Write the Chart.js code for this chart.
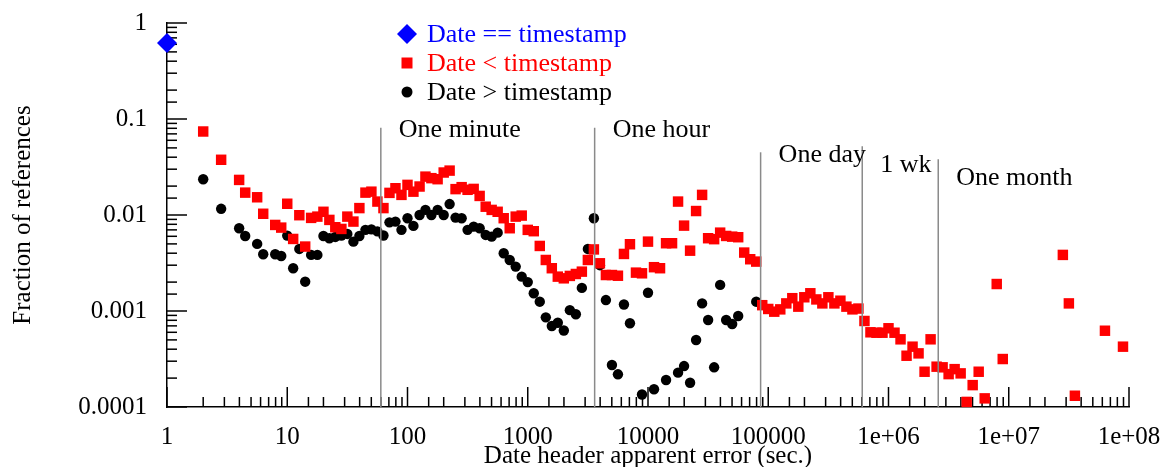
<!DOCTYPE html>
<html>
<head>
<meta charset="utf-8">
<script src="https://cdn.jsdelivr.net/npm/chart.js@4/dist/chart.umd.min.js"></script>
<style>
  html, body { margin: 0; padding: 0; background: #fff; }
  canvas { display: block; }
</style>
</head>
<body>
<canvas id="errChart" width="1162" height="467"></canvas>
<script>
// Date == timestamp
const equalX = [1];
const equalY = [0.619];

// Date < timestamp
const lessX = [2.00, 2.82, 3.98, 4.47, 5.62, 6.31, 7.94, 8.91, 10.0, 11.2, 12.6, 14.1, 15.8, 17.8, 20.0, 22.4, 25.1, 28.2, 31.6, 35.5,
  39.8, 44.7, 50.1, 56.2, 63.1, 70.8, 79.4, 89.1, 100, 112, 126, 141, 158, 178, 200, 224, 251, 282, 316, 355,
  398, 447, 501, 562, 631, 708, 794, 891, 1000, 1122, 1259, 1413, 1585, 1778, 1995, 2239, 2512, 2818, 3162, 3548,
  3981, 4467, 5012, 5623, 6310, 7079, 7943, 8913, 10000, 11220, 12590, 14130, 15850, 17780, 19950, 22390, 25120, 28180, 31620, 35480,
  39810, 44670, 50120, 56230, 63100, 70790, 79430, 89130, 1.000e5, 1.122e5, 1.259e5, 1.413e5, 1.585e5, 1.778e5, 1.995e5, 2.239e5, 2.512e5, 2.818e5, 3.162e5, 3.548e5,
  3.981e5, 4.467e5, 5.012e5, 5.623e5, 6.310e5, 7.079e5, 7.943e5, 8.913e5, 1.000e6, 1.122e6, 1.259e6, 1.413e6, 1.585e6, 1.778e6, 1.995e6, 2.239e6, 2.512e6, 2.818e6, 3.162e6, 3.548e6,
  3.981e6, 4.467e6, 5.012e6, 5.623e6, 6.310e6, 7.943e6, 8.913e6, 2.818e7, 3.162e7, 3.548e7, 6.310e7, 8.913e7];
const lessY = [0.0741, 0.0376, 0.0232, 0.0171, 0.0153, 0.0103, 0.00788, 0.00739, 0.0131, 0.00563, 0.00995, 0.00469, 0.00933, 0.00962, 0.0108, 0.00889, 0.00746, 0.00716, 0.00962, 0.00854,
  0.0118, 0.0171, 0.0175, 0.0138, 0.0118, 0.0170, 0.0190, 0.0162, 0.0206, 0.0175, 0.0198, 0.0251, 0.0242, 0.0236, 0.0277, 0.0290, 0.0186, 0.0195, 0.0183, 0.0187,
  0.0158, 0.0122, 0.0113, 0.0108, 0.00926, 0.00728, 0.00962, 0.00986, 0.00700, 0.00678, 0.00476, 0.00340, 0.00279, 0.00228, 0.00219, 0.00232, 0.00243, 0.00257, 0.00340, 0.00438,
  0.00314, 0.00237, 0.00237, 0.00233, 0.00393, 0.00496, 0.00251, 0.00247, 0.00528, 0.00286, 0.00279, 0.00508, 0.00508, 0.0138, 0.00775, 0.00425, 0.0110, 0.0162, 0.00573, 0.00560,
  0.00655, 0.00605, 0.00595, 0.00587, 0.00406, 0.00346, 0.00327, 0.00115, 0.00105, 0.000984, 0.00104, 0.00120, 0.00136, 0.00111, 0.00139, 0.00153, 0.00132, 0.00120, 0.00139, 0.00120,
  0.00128, 0.00111, 0.00104, 0.00106, 0.000787, 0.000600, 0.000594, 0.000594, 0.000661, 0.000594, 0.000507, 0.000342, 0.000425, 0.000362, 0.000233, 0.000507, 0.000263, 0.000259, 0.000220, 0.000248,
  0.000224, 0.000113, 0.000169, 0.000233, 0.000123, 0.00191, 0.000316, 0.00384, 0.00120, 0.000131, 0.000623, 0.000425];

// Date > timestamp
const greaterX = [2.00, 2.82, 3.98, 4.47, 5.62, 6.31, 7.94, 8.91, 10.0, 11.2, 12.6, 14.1, 15.8, 17.8, 20.0, 22.4, 25.1, 28.2, 31.6, 35.5,
  39.8, 44.7, 50.1, 56.2, 63.1, 70.8, 79.4, 89.1, 100, 112, 126, 141, 158, 178, 200, 224, 251, 282, 316, 355,
  398, 447, 501, 562, 631, 708, 794, 891, 1000, 1122, 1259, 1413, 1585, 1778, 1995, 2239, 2512, 2818, 3162, 3548,
  3981, 4467, 5012, 5623, 6310, 7079, 8913, 10000, 11220, 14130, 17780, 19950, 22390, 25120, 28180, 31620, 35480, 39810, 44670, 50120,
  56230, 79430];
const greaterY = [0.0236, 0.0116, 0.00728, 0.00605, 0.00500, 0.00390, 0.00390, 0.00374, 0.00610, 0.00279, 0.00443, 0.00202, 0.00384, 0.00384, 0.00605, 0.00573, 0.00591, 0.00612, 0.00635, 0.00528,
  0.00605, 0.00700, 0.00708, 0.00675, 0.00612, 0.00838, 0.00854, 0.00700, 0.00926, 0.00770, 0.0100, 0.0113, 0.0100, 0.0113, 0.0100, 0.0130, 0.00940, 0.00926, 0.00700, 0.00757,
  0.00728, 0.00620, 0.00595, 0.00655, 0.00400, 0.00340, 0.00290, 0.00228, 0.00200, 0.00153, 0.00125, 0.000859, 0.000698, 0.000755, 0.000626, 0.00102, 0.000924, 0.00174, 0.00443, 0.00926,
  0.00300, 0.00130, 0.000274, 0.000219, 0.00117, 0.000745, 0.000135, 0.00155, 0.000153, 0.000191, 0.000228, 0.000267, 0.000179, 0.000499, 0.00120, 0.000805, 0.000259, 0.00187, 0.000805, 0.000732,
  0.000887, 0.00125];

// time marks: minute, hour, day, week, month
const markX = [60, 3600, 86400, 604800, 2592000];
const markTop = [0.081, 0.081, 0.045, 0.052, 0.038];
const markText = ["One minute", "One hour", "One day", "1 wk", "One month"];
const markTextY = [0.077, 0.077, 0.0423, 0.0333, 0.0244];

const xTickValues = [1, 10, 100, 1000, 10000, 100000, 1e6, 1e7, 1e8];
const xTickLabels = ["1", "10", "100", "1000", "10000", "100000", "1e+06", "1e+07", "1e+08"];
const yTickValues = [1, 0.1, 0.01, 0.001, 0.0001];
const yTickLabels = ["1", "0.1", "0.01", "0.001", "0.0001"];

const legendItems = [
  { text: "Date == timestamp", color: "#0000ff", style: "diamond" },
  { text: "Date < timestamp", color: "#ff0000", style: "square" },
  { text: "Date > timestamp", color: "#000000", style: "circle" },
];

const SERIF = "'Liberation Serif', 'DejaVu Serif', serif";

const pts = (xs, ys) => xs.map((x, i) => ({ x: x, y: ys[i] }));

const isDecade = v => Math.abs(Math.log10(v) - Math.round(Math.log10(v))) < 1e-6;

function labelFor(v, values, labels) {
  const i = values.findIndex(t => Math.abs(Math.log10(t) - Math.log10(v)) < 1e-6);
  return i >= 0 ? labels[i] : "";
}

// ticks pointing into the plot, long at decades
const inwardTicks = {
  id: "inwardTicks",
  beforeDatasetsDraw(chart) {
    const { ctx, chartArea, scales } = chart;
    ctx.save();
    ctx.strokeStyle = "#000";
    ctx.lineWidth = 1.5;
    scales.x.ticks.forEach(t => {
      const px = scales.x.getPixelForValue(t.value);
      const len = isDecade(t.value) ? 20 : 10;
      ctx.beginPath();
      ctx.moveTo(px, chartArea.bottom);
      ctx.lineTo(px, chartArea.bottom - len);
      ctx.stroke();
    });
    scales.y.ticks.forEach(t => {
      const py = scales.y.getPixelForValue(t.value);
      const len = isDecade(t.value) ? 20 : 10;
      ctx.beginPath();
      ctx.moveTo(chartArea.left, py);
      ctx.lineTo(chartArea.left + len, py);
      ctx.stroke();
    });
    ctx.restore();
  }
};

// names beside the time marks
const markLabels = {
  id: "markLabels",
  afterDatasetsDraw(chart) {
    const { ctx, scales } = chart;
    ctx.save();
    ctx.font = "26px " + SERIF;
    ctx.fillStyle = "#000";
    ctx.textBaseline = "middle";
    ctx.textAlign = "left";
    markX.forEach((mx, i) => {
      ctx.fillText(markText[i], scales.x.getPixelForValue(mx) + 18, scales.y.getPixelForValue(markTextY[i]));
    });
    ctx.restore();
  }
};

// stacked legend near the top
const stackedLegend = {
  id: "stackedLegend",
  afterDraw(chart) {
    const { ctx } = chart;
    const mx = 407, tx = 427, rowY = [34, 63, 92];
    ctx.save();
    ctx.font = "26px " + SERIF;
    ctx.textBaseline = "middle";
    legendItems.forEach((it, i) => {
      const y = rowY[i];
      ctx.fillStyle = it.color;
      ctx.beginPath();
      if (it.style === "diamond") {
        ctx.moveTo(mx, y - 10); ctx.lineTo(mx + 10, y); ctx.lineTo(mx, y + 10); ctx.lineTo(mx - 10, y);
        ctx.closePath();
      } else if (it.style === "square") {
        ctx.rect(mx - 5.5, y - 5.5, 11, 11);
      } else {
        ctx.arc(mx, y, 5.5, 0, Math.PI * 2);
      }
      ctx.fill();
      ctx.fillText(it.text, tx, y + 1);
    });
    ctx.restore();
  }
};

const markSets = markX.map((mx, i) => ({
  type: "line",
  data: [{ x: mx, y: 0.0001 }, { x: mx, y: markTop[i] }],
  borderColor: "#8a8a8a",
  borderWidth: 1.5,
  pointRadius: 0,
  showLine: true,
  fill: false,
  order: 0,
}));

new Chart(document.getElementById("errChart").getContext("2d"), {
  type: "scatter",
  data: {
    datasets: [
      ...markSets,
      {
        label: "Date == timestamp",
        data: pts(equalX, equalY),
        pointStyle: "rectRot",
        pointRadius: 10,
        backgroundColor: "#0000ff",
        borderWidth: 0,
        clip: false,
        order: 1,
      },
      {
        label: "Date < timestamp",
        data: pts(lessX, lessY),
        pointStyle: "rect",
        pointRadius: 7.4,
        backgroundColor: "#ff0000",
        borderWidth: 0,
        clip: false,
        order: 2,
      },
      {
        label: "Date > timestamp",
        data: pts(greaterX, greaterY),
        pointStyle: "circle",
        pointRadius: 5.2,
        backgroundColor: "#000000",
        borderWidth: 0,
        clip: false,
        order: 3,
      },
    ],
  },
  options: {
    responsive: false,
    animation: false,
    events: [],
    layout: { padding: { left: 0, right: 33, top: 23, bottom: 0 } },
    plugins: {
      legend: { display: false },
      tooltip: { enabled: false },
    },
    scales: {
      x: {
        type: "logarithmic",
        min: 1,
        max: 1e8,
        grid: { display: false },
        border: { display: true, color: "#000", width: 1.5 },
        ticks: {
          autoSkip: false,
          maxRotation: 0,
          padding: 7,
          color: "#000",
          font: { family: SERIF, size: 25 },
          callback: v => labelFor(v, xTickValues, xTickLabels),
        },
        title: {
          display: true,
          text: "Date header apparent error (sec.)",
          color: "#000",
          font: { family: SERIF, size: 25, lineHeight: 1 },
          padding: { top: 0, bottom: -2 },
        },
        afterFit: s => { s.height = 60; s.paddingLeft = 0; s.paddingRight = 0; },
      },
      y: {
        type: "logarithmic",
        min: 0.0001,
        max: 1,
        grid: { display: false },
        border: { display: true, color: "#000", width: 1.5 },
        ticks: {
          autoSkip: false,
          padding: 12,
          color: "#000",
          font: { family: SERIF, size: 25 },
          callback: v => labelFor(v, yTickValues, yTickLabels),
        },
        title: {
          display: true,
          text: "Fraction of references",
          color: "#000",
          font: { family: SERIF, size: 25, lineHeight: 1 },
          padding: { top: 11, bottom: 0 },
        },
        afterFit: s => { s.width = 167; s.paddingTop = 0; s.paddingBottom = 0; },
      },
    },
  },
  plugins: [inwardTicks, markLabels, stackedLegend],
});
</script>
</body>
</html>
